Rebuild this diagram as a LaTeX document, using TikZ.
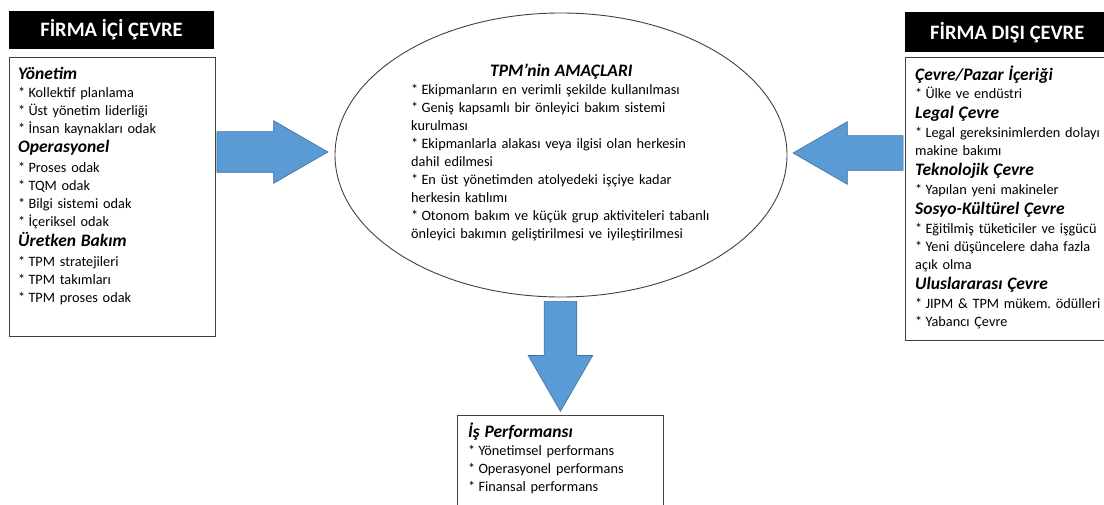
\documentclass[tikz,border=0pt]{standalone}
\usepackage{fontspec}
\setmainfont{Carlito}
\usetikzlibrary{positioning, shapes.geometric, shapes.arrows}
\definecolor{tpmblue}{RGB}{91,155,213}
\definecolor{tpmblueline}{RGB}{65,113,156}
\definecolor{tpmgray}{RGB}{64,64,64}
\newcommand{\bodysize}{\fontsize{14.3}{18}\selectfont\frenchspacing}
\newcommand{\head}[1]{{\fontsize{17.5}{18}\selectfont\bfseries\itshape #1}}
\newcommand{\itm}{*\hspace{3.2pt}}

\begin{document}
\begin{tikzpicture}[
        x=1pt, y=-1pt,
        header/.style={fill=black, text=white, inner sep=0pt,
                       minimum width=205pt, minimum height=38pt,
                       font=\fontsize{20.5}{22}\selectfont\bfseries},
        frame/.style={draw=tpmgray, line width=0.9pt, inner sep=0pt},
        textblock/.style={anchor=north west, inner sep=0pt, align=left,
                          font=\bodysize},
        bigarrow/.style={single arrow, fill=tpmblue, draw=tpmblueline,
                         line width=0.6pt, inner xsep=0pt,
                         single arrow tip angle=60, anchor=tip}
      ]
      \useasboundingbox (0,0) rectangle (1104,505);

      % left side
      \node[header] (hdrL) at (111.5,30) {FİRMA İÇİ ÇEVRE};
      \node[frame, anchor=north west, minimum width=206pt, minimum height=279pt]
        (boxL) at (9,57) {};
      \node[textblock, text width=195pt] (txtL)
        at ([shift={(9pt,-10pt)}]boxL.north west) {%
        \head{Yönetim}\\
        \itm Kollektif planlama\\
        \itm Üst yönetim liderliği\\
        \itm İnsan kaynakları odak\\[1pt]
        \head{Operasyonel}\\[2pt]
        \itm Proses odak\\
        \itm TQM odak\\
        \itm Bilgi sistemi odak\\
        \itm İçeriksel odak\\[2pt]
        \head{Üretken Bakım}\\[2pt]
        \itm TPM stratejileri\\
        \itm TPM takımları\\
        \itm TPM proses odak};

      % right side
      \node[header, anchor=north west, minimum width=203pt, minimum height=40pt]
        (hdrR) at (905,12) {\hspace*{1pt}FİRMA DIŞI ÇEVRE};
      \node[frame, anchor=north west, minimum width=210pt, minimum height=283pt]
        (boxR) at (905,57) {};
      \node[textblock, text width=195pt] (txtR)
        at ([shift={(10pt,-9pt)}]boxR.north west) {%
        \head{Çevre/Pazar İçeriği}\\
        \itm Ülke ve endüstri\\[2pt]
        \head{Legal Çevre}\\[1pt]
        \itm Legal gereksinimlerden dolayı\\
        makine bakımı\\[2pt]
        \head{Teknolojik Çevre}\\[1pt]
        \itm Yapılan yeni makineler\\[2pt]
        \head{Sosyo-Kültürel Çevre}\\[1pt]
        \itm Eğitilmiş tüketiciler ve işgücü\\
        \itm Yeni düşüncelere daha fazla\\
        açık olma\\[2pt]
        \head{Uluslararası Çevre}\\[1pt]
        \itm JIPM \& TPM mükem. ödülleri\\
        \itm Yabancı Çevre};

      % centre
      \node[ellipse, draw=tpmgray, line width=0.9pt, minimum width=452pt,
            minimum height=284pt] (ellE) at (561,155) {};
      \node[textblock, text width=320pt] (txtE) at (411,64) {%
        \hspace*{79pt}\head{TPM'nin AMAÇLARI}\\
        \itm Ekipmanların en verimli şekilde kullanılması\\
        \itm Geniş kapsamlı bir önleyici bakım sistemi\\
        kurulması\\
        \itm Ekipmanlarla alakası veya ilgisi olan herkesin\\
        dahil edilmesi\\
        \itm En üst yönetimden atolyedeki işçiye kadar\\
        herkesin katılımı\\
        \itm Otonom bakım ve küçük grup aktiviteleri tabanlı\\
        önleyici bakımın geliştirilmesi ve iyileştirilmesi};

      % bottom
      \node[frame, anchor=north west, minimum width=206pt, minimum height=100pt]
        (boxB) at (457,415) {};
      \node[textblock, text width=195pt] (txtB)
        at ([shift={(11pt,-8pt)}]boxB.north west) {%
        \head{İş Performansı}\\
        \itm Yönetimsel performans\\
        \itm Operasyonel performans\\
        \itm Finansal performans};

      % block arrows
      \node[bigarrow, inner ysep=20pt, single arrow head extend=11pt,
            minimum height=111pt] (arrL) at ([shift={(-6pt,3pt)}]ellE.west) {};
      \node[bigarrow, rotate=180, inner ysep=17pt, single arrow head extend=14pt,
            minimum height=110pt] (arrR) at ([shift={(5pt,2pt)}]ellE.east) {};
      \node[bigarrow, rotate=-90, inner ysep=16pt, single arrow head extend=16pt,
            minimum height=110pt] (arrB) at ([yshift=3pt]boxB.north) {};
    \end{tikzpicture}
\end{document}
